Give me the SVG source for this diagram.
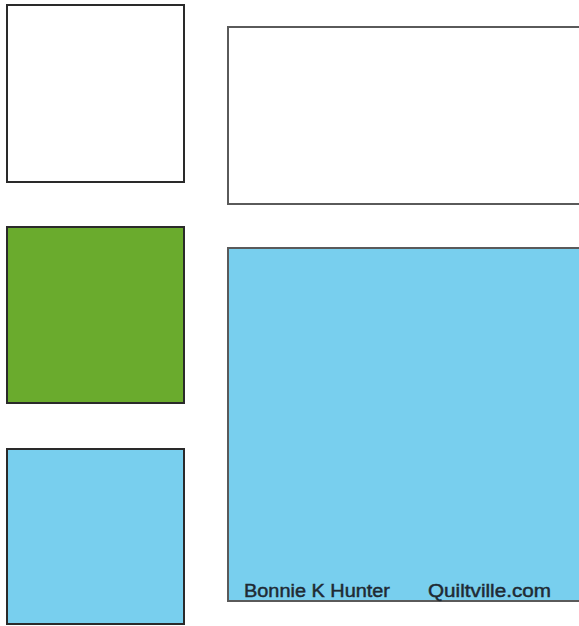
<svg xmlns="http://www.w3.org/2000/svg" width="579" height="626" viewBox="0 0 579 626">
<style>
.sq{stroke:#2a2a2a;stroke-width:2}
.wide{stroke:#5a5a5a;stroke-width:2}
.w{fill:#ffffff}
.g{fill:#6aab2d}
.b{fill:#78cfee}
.t{font-family:"Liberation Sans",Arial,sans-serif;font-size:18px;font-weight:normal;fill:#1f2a33;stroke:#1f2a33;stroke-width:0.45}
</style>
<rect width="579" height="626" fill="#ffffff"/>
<g id="square-white"><rect class="sq w" x="7" y="5" width="177" height="177"/></g>
<g id="rect-white-wide"><rect class="wide w" x="228" y="27" width="360" height="177"/></g>
<g id="square-green"><rect class="sq g" x="7" y="227" width="177" height="176"/></g>
<g id="rect-blue-large"><rect class="wide b" x="228" y="248" width="360" height="353"/>
<text class="t" x="244" y="597" textLength="146" lengthAdjust="spacingAndGlyphs">Bonnie K Hunter</text>
<text class="t" x="428" y="597" textLength="123" lengthAdjust="spacingAndGlyphs">Quiltville.com</text></g>
<g id="square-blue"><rect class="sq b" x="7" y="449" width="177" height="175"/></g>
<g id="connectors"/>
</svg>
